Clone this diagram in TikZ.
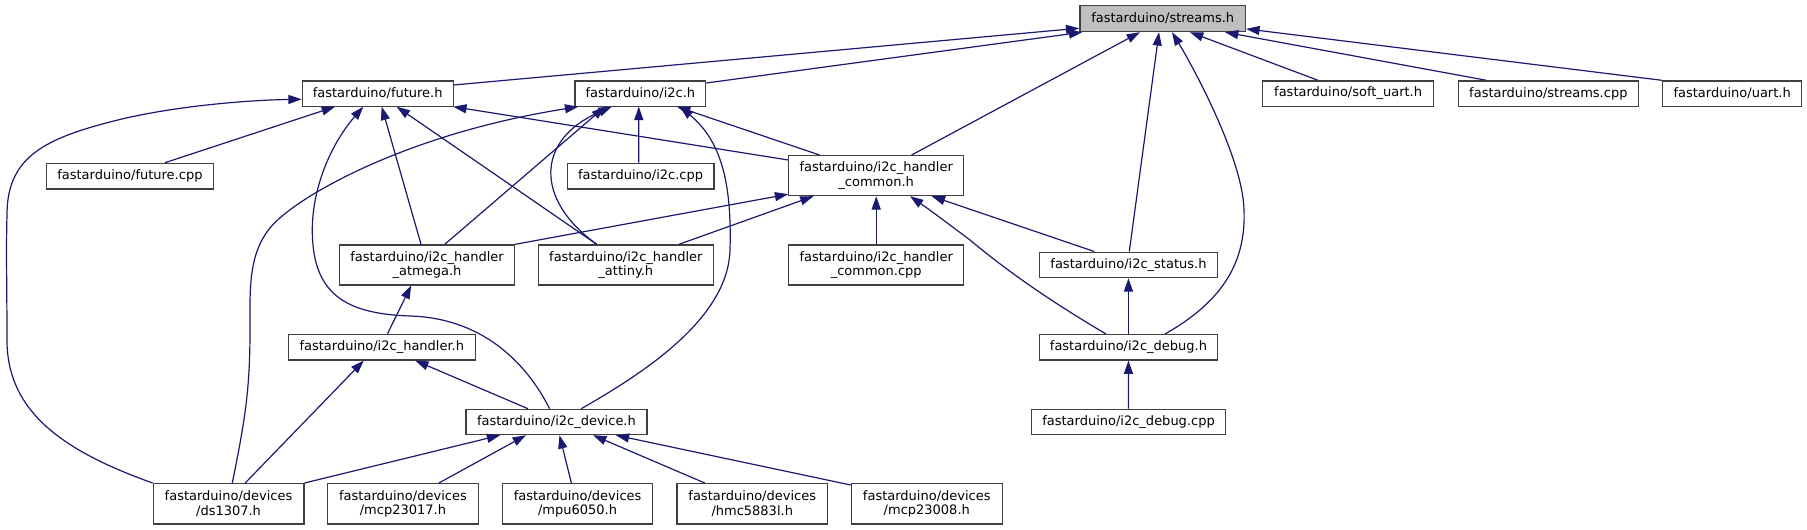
\documentclass[tikz,border=0pt]{standalone}
\usepackage{fontspec}
\setmainfont{DejaVu Sans}
\usetikzlibrary{arrows.meta}
\definecolor{edgec}{HTML}{191970}
\definecolor{boxc}{HTML}{404040}
\definecolor{rootfill}{HTML}{BFBFBF}
\tikzset{
  box/.style={draw=boxc, fill=white, line width=0.9pt, inner sep=0pt, anchor=north west,
    align=center, font=\fontsize{9.75pt}{10.9pt}\selectfont},
  rootbox/.style={box, fill=rootfill},
  edge/.style={draw=edgec, line width=0.9pt, -{Triangle[length=10pt,width=6.75pt]}},
}
\begin{document}
\begin{tikzpicture}[x=0.75pt,y=-0.75pt]
\useasboundingbox (0,0) rectangle (1807,529);
% nodes
\node[rootbox, minimum width={165.7*0.75pt}, minimum height={26*0.75pt}] (streams) at (1079.3,5) {fastarduino/streams.h};
\node[box, minimum width={150.8*0.75pt}, minimum height={25.2*0.75pt}] (future) at (301.7,80.3) {fastarduino/future.h};
\node[box, minimum width={130.7*0.75pt}, minimum height={25.2*0.75pt}] (i2c) at (574.4,80.3) {fastarduino/i2c.h};
\node[box, minimum width={171*0.75pt}, minimum height={25.2*0.75pt}] (soft) at (1262,80.3) {fastarduino/soft\_uart.h};
\node[box, minimum width={180.5*0.75pt}, minimum height={25.2*0.75pt}] (scpp) at (1457.5,80.3) {fastarduino/streams.cpp};
\node[box, minimum width={139.3*0.75pt}, minimum height={25.2*0.75pt}] (uart) at (1661.9,80.3) {fastarduino/uart.h};
\node[box, minimum width={166.8*0.75pt}, minimum height={25.6*0.75pt}] (fcpp) at (45.9,162.7) {fastarduino/future.cpp};
\node[box, minimum width={146.9*0.75pt}, minimum height={25.6*0.75pt}] (i2ccpp) at (566.5,162.7) {fastarduino/i2c.cpp};
\node[box, minimum width={174.8*0.75pt}, minimum height={40*0.75pt}] (common) at (788.2,155) {fastarduino/i2c\_handler\\\_common.h};
\node[box, minimum width={175.1*0.75pt}, minimum height={40*0.75pt}] (atmega) at (338.9,244.3) {fastarduino/i2c\_handler\\\_atmega.h};
\node[box, minimum width={174.9*0.75pt}, minimum height={40*0.75pt}] (attiny) at (537.8,244.3) {fastarduino/i2c\_handler\\\_attiny.h};
\node[box, minimum width={174.8*0.75pt}, minimum height={40*0.75pt}] (ccpp) at (788.2,244.3) {fastarduino/i2c\_handler\\\_common.cpp};
\node[box, minimum width={177.9*0.75pt}, minimum height={25.5*0.75pt}] (status) at (1038.9,251.5) {fastarduino/i2c\_status.h};
\node[box, minimum width={186.6*0.75pt}, minimum height={25.6*0.75pt}] (handler) at (287.9,333.7) {fastarduino/i2c\_handler.h};
\node[box, minimum width={177.9*0.75pt}, minimum height={25.3*0.75pt}] (debug) at (1038.9,334) {fastarduino/i2c\_debug.h};
\node[box, minimum width={180.9*0.75pt}, minimum height={25.3*0.75pt}] (device) at (465.4,408.7) {fastarduino/i2c\_device.h};
\node[box, minimum width={193.8*0.75pt}, minimum height={25.3*0.75pt}] (dcpp) at (1031,408.7) {fastarduino/i2c\_debug.cpp};
\node[box, minimum width={150.7*0.75pt}, minimum height={40.3*0.75pt}] (ds) at (152.6,483) {fastarduino/devices\\/ds1307.h};
\node[box, minimum width={150.7*0.75pt}, minimum height={40.3*0.75pt}] (m17) at (327,483) {fastarduino/devices\\/mcp23017.h};
\node[box, minimum width={150.4*0.75pt}, minimum height={40.3*0.75pt}] (mpu) at (501.8,483) {fastarduino/devices\\/mpu6050.h};
\node[box, minimum width={150.7*0.75pt}, minimum height={40.3*0.75pt}] (hmc) at (676.3,483) {fastarduino/devices\\/hmc5883l.h};
\node[box, minimum width={151*0.75pt}, minimum height={40.3*0.75pt}] (m08) at (850.7,483) {fastarduino/devices\\/mcp23008.h};
% edges to streams.h
\draw[edge] ([shift={(0,4.7)}]future.north east) -- ([shift={(0,-4)}]streams.south west);
\draw[edge] ([shift={(0,2.7)}]i2c.north east) -- ([shift={(3,0)}]streams.south west);
\draw[edge] ([shift={(123.4,0)}]common.north west) -- ([shift={(60.7,0)}]streams.south west);
\draw[edge] ([shift={(90.4,0)}]status.north west) -- ([shift={(79.7,0)}]streams.south west);
\draw[edge] ([shift={(126.1,0)}]debug.north west) .. controls (1225,300) and (1246,260) .. (1244,210)
  .. controls (1243,160) and (1195,70) .. ([shift={(92.7,0)}]streams.south west);
\draw[edge] ([shift={(56,0)}]soft.north west) -- ([shift={(110.7,0)}]streams.south west);
\draw[edge] ([shift={(29,0)}]scpp.north west) -- ([shift={(145.7,0)}]streams.south west);
\draw[edge] (uart.north west) -- ([shift={(0,-3.3)}]streams.south east);
% edges to future.h
\draw[edge] ([shift={(119.1,0)}]fcpp.north west) -- ([shift={(33.3,0)}]future.south west);
\draw[edge] (ds.north west) .. controls (60,450) and (7,410) .. (7,340)
  .. controls (7,290) and (6,250) .. (7,215)
  .. controls (7,160) and (40,140) .. (110,122)
  .. controls (170,106) and (250,100) .. ([shift={(0,19)}]future.north west);
\draw[edge] ([shift={(82.1,0)}]atmega.north west) -- ([shift={(80,0)}]future.south west);
\draw[edge] ([shift={(84.2,0)}]device.north west) .. controls (525,360) and (480,318) .. (410,316)
  .. controls (355,314) and (318,300) .. (313,245)
  .. controls (308,195) and (330,145) .. ([shift={(61.6,0)}]future.south west);
\draw[edge] ([shift={(58.9,0)}]attiny.north west) -- ([shift={(95,0)}]future.south west);
\draw[edge] ([shift={(0,5)}]common.north west) -- ([shift={(-0.5,0)}]future.south east);
% edges to i2c.h
\draw[edge] ([shift={(72.3,0)}]i2ccpp.north west) -- ([shift={(64.4,0)}]i2c.south west);
\draw[edge] ([shift={(31.3,0)}]common.north west) -- ([shift={(102.6,0)}]i2c.south west);
\draw[edge] ([shift={(79.7,0)}]ds.north west) .. controls (245,420) and (250,390) .. (250,330)
  .. controls (250,290) and (248,255) .. (270,228)
  .. controls (292,200) and (400,135) .. ([shift={(3.9,0)}]i2c.south west);
\draw[edge] ([shift={(105.9,0)}]atmega.north west) -- ([shift={(30.6,0)}]i2c.south west);
\draw[edge] ([shift={(58.9,0)}]attiny.north west) .. controls (535,200) and (535,140) .. ([shift={(37.3,0)}]i2c.south west);
\draw[edge] ([shift={(115.9,0)}]device.north west) .. controls (640,375) and (728,320) .. (730,250)
  .. controls (732,180) and (720,140) .. ([shift={(105.6,0)}]i2c.south west);
% edges to i2c_handler_common.h
\draw[edge] (atmega.north east) -- ([shift={(0,-2)}]common.south west);
\draw[edge] ([shift={(141.2,0)}]attiny.north west) -- ([shift={(25.3,0)}]common.south west);
\draw[edge] (ccpp.north) -- (common.south);
\draw[edge] ([shift={(55.4,0)}]status.north west) -- ([shift={(143.5,0)}]common.south west);
\draw[edge] ([shift={(67.1,0)}]debug.north west) .. controls (1040,295) and (1000,265) .. (970,240)
  .. controls (950,225) and (930,210) .. ([shift={(121.8,0)}]common.south west);
% others
\draw[edge] (debug.north) -- (status.south);
\draw[edge] (dcpp.north) -- (debug.south);
\draw[edge] ([shift={(99.6,0)}]handler.north west) -- ([shift={(72.3,0)}]atmega.south west);
\draw[edge] ([shift={(92.6,0)}]ds.north west) -- ([shift={(75.9,0)}]handler.south west);
\draw[edge] ([shift={(62.5,0)}]device.north west) -- ([shift={(127.3,0)}]handler.south west);
\draw[edge] (ds.north east) -- ([shift={(34.8,0)}]device.south west);
\draw[edge] ([shift={(111.9,0)}]m17.north west) -- ([shift={(60.6,0)}]device.south west);
\draw[edge] ([shift={(69.6,0)}]mpu.north west) -- ([shift={(94.1,0)}]device.south west);
\draw[edge] ([shift={(28.5,0)}]hmc.north west) -- ([shift={(127.7,0)}]device.south west);
\draw[edge] ([shift={(0,2)}]m08.north west) -- ([shift={(150.4,0)}]device.south west);
\end{tikzpicture}
\end{document}
